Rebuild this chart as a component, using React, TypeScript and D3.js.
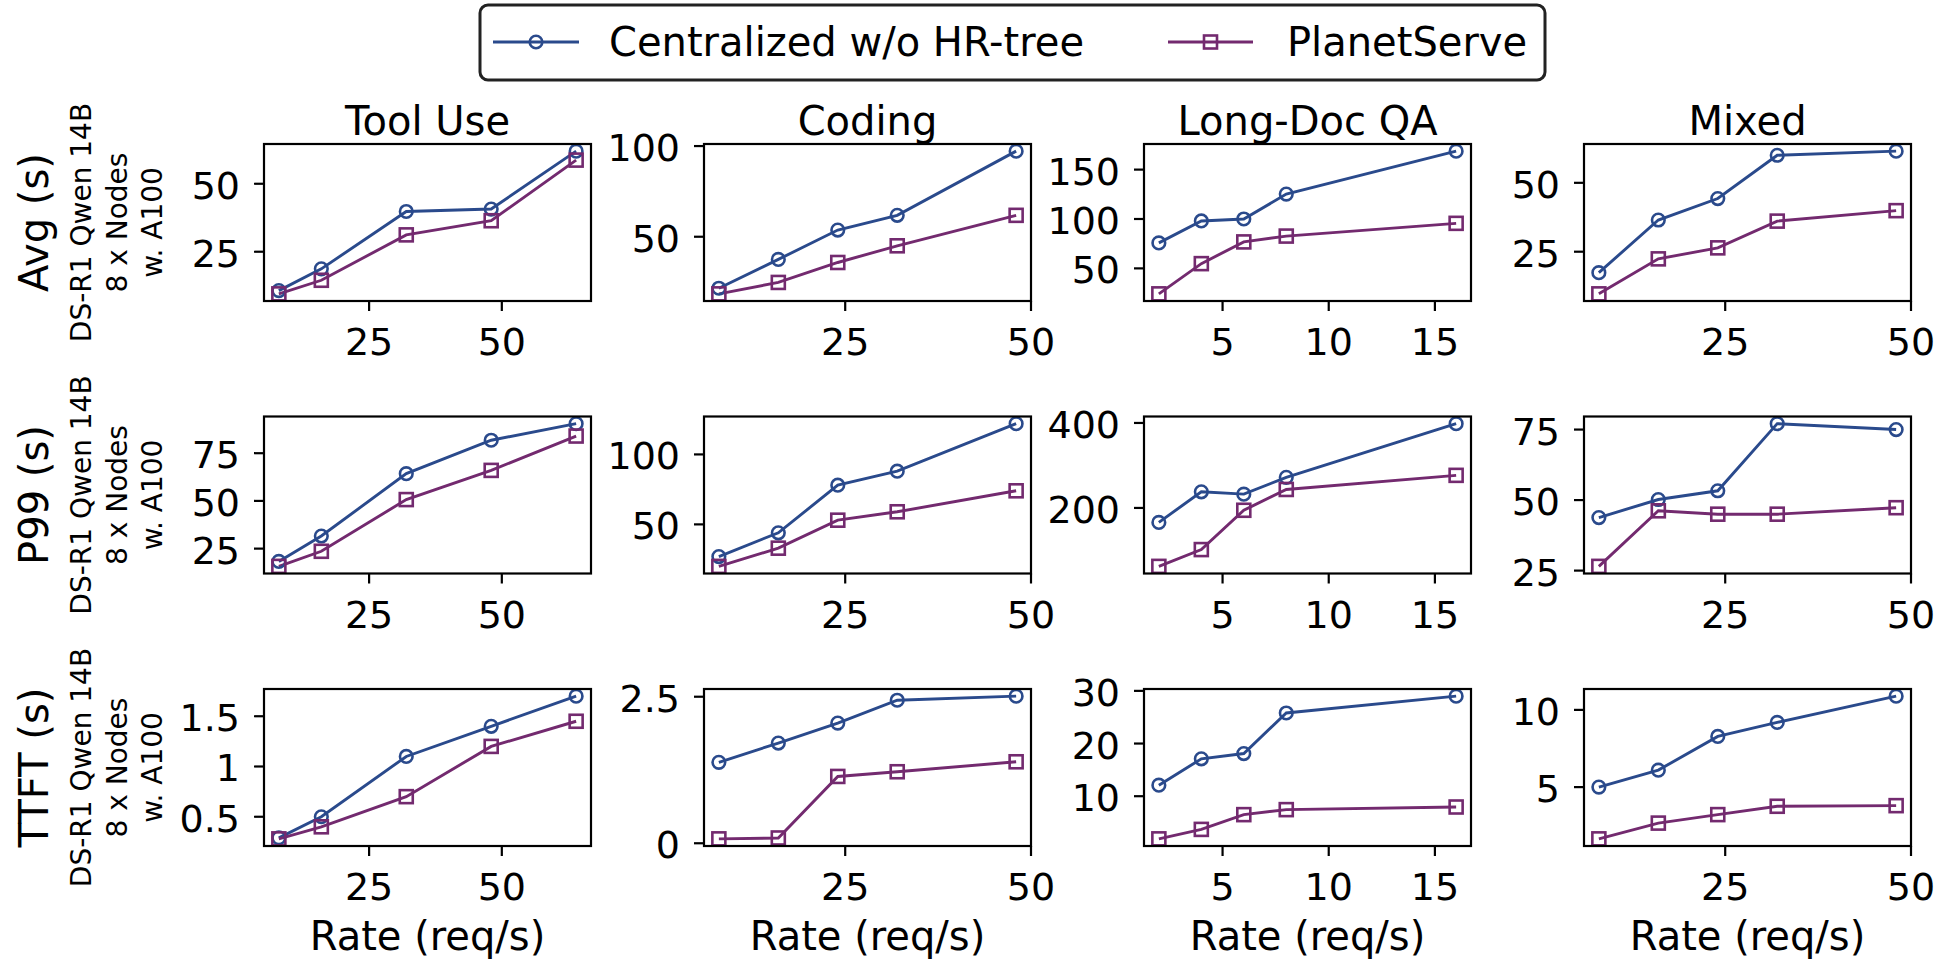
import React from 'react';
import * as d3 from 'd3';

// ---------------- data ----------------
const categories = ['Tool Use', 'Coding', 'Long-Doc QA', 'Mixed'];
const metrics = ['Avg (s)', 'P99 (s)', 'TTFT (s)'];
const modelLabel = ['DS-R1 Qwen 14B', '8 x Nodes', 'w. A100'];
const seriesNames = ['Centralized w/o HR-tree', 'PlanetServe'];
const xLabel = 'Rate (req/s)';

const rateToolUse = [8, 16, 32, 48, 64];
const rateCoding = [8, 16, 24, 32, 48];
const rateLongDoc = [2, 4, 6, 8, 16];
const rateMixed = [8, 16, 24, 32, 48];

// per category: Tool Use, Coding, Long-Doc QA, Mixed
const avgCentralized = [
  [10.7, 18.7, 39.8, 40.7, 62.0],
  [21.6, 37.5, 53.7, 61.8, 97.2],
  [75.8, 98, 100, 125.2, 168.7],
  [17.4, 36.5, 44.3, 60, 61.5],
];
const avgPlanetServe = [
  [9.5, 14.5, 31.2, 36.4, 58.7],
  [18.5, 24.8, 35.8, 45, 61.8],
  [24.2, 54.8, 76.8, 82.7, 95.6],
  [9.7, 22.4, 26.4, 36.1, 39.9],
];
const p99Centralized = [
  [18.3, 31.6, 64.3, 81.8, 90.5],
  [27, 44, 78, 88, 122],
  [166, 238, 232.5, 272, 398.4],
  [43.8, 50.2, 53.3, 77.1, 75],
];
const p99PlanetServe = [
  [15.7, 23.6, 50.7, 66, 84],
  [20, 33, 53, 59, 74],
  [62.5, 102, 194.5, 243.5, 276.7],
  [26.5, 46.2, 45, 45, 47.3],
];
const ttftCentralized = [
  [0.29, 0.5, 1.1, 1.4, 1.7],
  [1.38, 1.71, 2.05, 2.44, 2.51],
  [12.1, 17.1, 18.1, 25.8, 29],
  [5.0, 6.1, 8.28, 9.19, 10.89],
];
const ttftPlanetServe = [
  [0.28, 0.4, 0.7, 1.2, 1.45],
  [0.075, 0.09, 1.14, 1.22, 1.39],
  [1.9, 3.7, 6.5, 7.45, 7.95],
  [1.65, 2.67, 3.22, 3.76, 3.8],
];

const xTickValues = [[25, 50], [25, 50], [5, 10, 15], [25, 50]];
const avgTicks = [[25, 50], [50, 100], [50, 100, 150], [25, 50]];
const p99Ticks = [[25, 50, 75], [50, 100], [200, 400], [25, 50, 75]];
const ttftTicks = [[0.5, 1, 1.5], [0, 2.5], [10, 20, 30], [5, 10]];

// ---------------- layout ----------------
const W = 1941;
const H = 960;
const colLeft0 = 264;
const colStep = 440;
const axW = 327;
const rowTop0 = 144;
const rowStep = 272.5;
const axH = 157;
const BLUE = '#2a4a8c';
const PURPLE = '#732a6f';
const FONT = 'DejaVu Sans, sans-serif';
const LINE_W = 2.9;
const MK_W = 2.6;
const MK_R = 6.3;
const MK_SQ = 13;

const rates = [rateToolUse, rateCoding, rateLongDoc, rateMixed];
const centralRows = [avgCentralized, p99Centralized, ttftCentralized];
const planetRows = [avgPlanetServe, p99PlanetServe, ttftPlanetServe];
const yTickRows = [avgTicks, p99Ticks, ttftTicks];

function padDomain(vals: number[]): [number, number] {
  const lo = d3.min(vals) as number;
  const hi = d3.max(vals) as number;
  const m = (hi - lo) * 0.05;
  return [lo - m, hi + m];
}
const fmt = d3.format('~g');

function Panel({ r, c }: { r: number; c: number }) {
  const left = colLeft0 + c * colStep;
  const top = rowTop0 + r * rowStep;
  const xs = rates[c];
  const cen = centralRows[r][c];
  const pla = planetRows[r][c];
  const x = d3.scaleLinear().domain(padDomain(xs)).range([left, left + axW]);
  const y = d3.scaleLinear().domain(padDomain([...cen, ...pla])).range([top + axH, top]);
  const line = d3
    .line<number>()
    .x((_, i) => x(xs[i]))
    .y((d) => y(d));
  const clipId = `clip-${r}-${c}`;
  return (
    <g>
      <defs>
        <clipPath id={clipId}>
          <rect x={left} y={top} width={axW} height={axH} />
        </clipPath>
      </defs>
      <g clipPath={`url(#${clipId})`}>
        <path d={line(cen) || ''} fill="none" stroke={BLUE} strokeWidth={LINE_W} />
        <path d={line(pla) || ''} fill="none" stroke={PURPLE} strokeWidth={LINE_W} />
        {cen.map((v, i) => (
          <circle key={'c' + i} cx={x(xs[i])} cy={y(v)} r={MK_R} fill="none" stroke={BLUE} strokeWidth={MK_W} />
        ))}
        {pla.map((v, i) => (
          <rect
            key={'p' + i}
            x={x(xs[i]) - MK_SQ / 2}
            y={y(v) - MK_SQ / 2}
            width={MK_SQ}
            height={MK_SQ}
            fill="none"
            stroke={PURPLE}
            strokeWidth={MK_W}
          />
        ))}
      </g>
      <rect x={left} y={top} width={axW} height={axH} fill="none" stroke="#000" strokeWidth={2.2} />
      {xTickValues[c].map((t) => (
        <g key={'xt' + t}>
          <line x1={x(t)} x2={x(t)} y1={top + axH} y2={top + axH + 10} stroke="#000" strokeWidth={2.2} />
          <text x={x(t)} y={top + axH + 54} fontSize={38} textAnchor="middle" fontFamily={FONT}>
            {fmt(t)}
          </text>
        </g>
      ))}
      {yTickRows[r][c].map((t) => (
        <g key={'yt' + t}>
          <line x1={left - 10} x2={left} y1={y(t)} y2={y(t)} stroke="#000" strokeWidth={2.2} />
          <text x={left - 24} y={y(t) + 15} fontSize={38} textAnchor="end" fontFamily={FONT}>
            {fmt(t)}
          </text>
        </g>
      ))}
      {r === 0 && (
        <text x={left + axW / 2} y={top - 9} fontSize={40} textAnchor="middle" fontFamily={FONT}>
          {categories[c]}
        </text>
      )}
      {r === 2 && (
        <text x={left + axW / 2} y={top + axH + 104} fontSize={40} textAnchor="middle" fontFamily={FONT}>
          {xLabel}
        </text>
      )}
    </g>
  );
}

function RowLabel({ r }: { r: number }) {
  const cy = rowTop0 + r * rowStep + axH / 2;
  const baseX = [91, 126.5, 162];
  return (
    <g>
      <text
        transform={`translate(48,${cy}) rotate(-90)`}
        fontSize={40}
        textAnchor="middle"
        fontFamily={FONT}
      >
        {metrics[r]}
      </text>
      {modelLabel.map((s, i) => (
        <text
          key={i}
          transform={`translate(${baseX[i]},${cy}) rotate(-90)`}
          fontSize={28}
          textAnchor="middle"
          fontFamily={FONT}
        >
          {s}
        </text>
      ))}
    </g>
  );
}

function Legend() {
  const entries = [
    { name: seriesNames[0], color: BLUE, x0: 493, x1: 579, tx: 609, marker: 'circle' },
    { name: seriesNames[1], color: PURPLE, x0: 1168, x1: 1253, tx: 1287, marker: 'square' },
  ];
  const cy = 42;
  return (
    <g>
      <rect x={480} y={5} width={1065} height={75} rx={8} fill="#fff" stroke="#222" strokeWidth={3} />
      {entries.map((e) => {
        const mx = (e.x0 + e.x1) / 2;
        return (
          <g key={e.name}>
            <line x1={e.x0} x2={e.x1} y1={cy} y2={cy} stroke={e.color} strokeWidth={LINE_W} />
            {e.marker === 'circle' ? (
              <circle cx={mx} cy={cy} r={MK_R} fill="none" stroke={e.color} strokeWidth={MK_W} />
            ) : (
              <rect
                x={mx - MK_SQ / 2}
                y={cy - MK_SQ / 2}
                width={MK_SQ}
                height={MK_SQ}
                fill="none"
                stroke={e.color}
                strokeWidth={MK_W}
              />
            )}
            <text x={e.tx} y={cy + 14} fontSize={40} fontFamily={FONT}>
              {e.name}
            </text>
          </g>
        );
      })}
    </g>
  );
}

export default function App() {
  return (
    <svg
      width={W}
      height={H}
      viewBox={`0 0 ${W} ${H}`}
      style={{ position: 'absolute', left: 0, top: 0, background: '#fff' }}
    >
      <rect x={0} y={0} width={W} height={H} fill="#fff" />
      <Legend />
      {metrics.map((_, r) => (
        <RowLabel key={'rl' + r} r={r} />
      ))}
      {metrics.map((_, r) =>
        categories.map((__, c) => <Panel key={`p${r}-${c}`} r={r} c={c} />)
      )}
    </svg>
  );
}
